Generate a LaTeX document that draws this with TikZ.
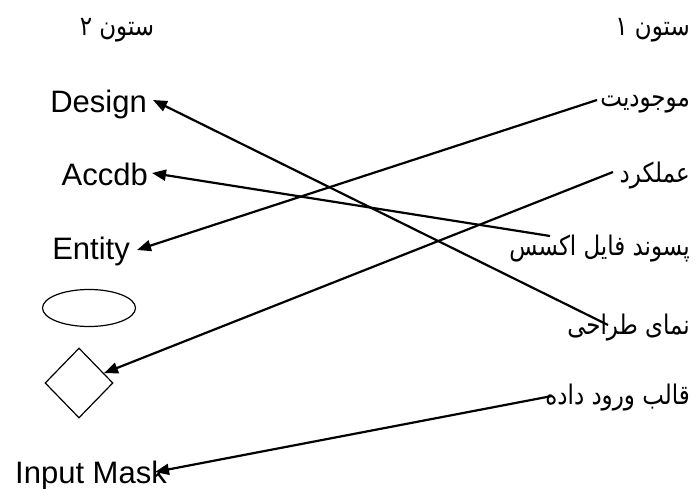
\documentclass[tikz,border=0pt]{standalone}
\usepackage{fontspec}
\setmainfont{Liberation Sans}
\newfontfamily\fa[Script=Arabic,FakeStretch=0.85]{DejaVu Sans}
\TeXXeTstate=1
\usetikzlibrary{shapes.geometric,arrows.meta,calc}
\begin{document}
\begin{tikzpicture}[x=1pt,y=-1pt,
  lbl/.style={font=\fontsize{31}{36}\selectfont, inner sep=0pt, anchor=base east},
  falbl/.style={font=\fontsize{27}{32}\selectfont\fa, inner sep=0pt, anchor=east},
  arr/.style={line width=2.2pt, -{Triangle[length=14pt,width=11pt]}},
  shp/.style={draw, line width=1.2pt, inner sep=0pt}]
\useasboundingbox (0,0) rectangle (697,489);
% titles
\node[falbl, anchor=center] (h2) at (117,30) {\beginR ستون ۲\endR};
\node[falbl] (h1) at (690,30) {\beginR ستون ۱\endR};
% left column
\node[lbl] (design) at (147,113) {Design};
\node[lbl] (accdb) at (148,186) {Accdb};
\node[lbl] (entity) at (130,260) {Entity};
\node[shp, ellipse, minimum width=93pt, minimum height=37pt] (ell) at (89,308) {};
\node[shp, diamond, minimum width=68pt, minimum height=70pt] (dia) at (79,383) {};
\node[lbl] (mask) at (167,483) {Input Mask};
% right column
\node[falbl] (r1) at (690,104) {\beginR موجودیت\endR};
\node[falbl] (r2) at (690,176) {\beginR عملکرد\endR};
\node[falbl] (r3) at (690,249) {\beginR پسوند فایل اکسس\endR};
\node[falbl] (r4) at (690,328) {\beginR نمای طراحی\endR};
\node[falbl] (r5) at (690,398) {\beginR قالب ورود داده\endR};
% connectors
\draw[arr] ($(r1.east)+(-93,-4)$) -- ($(entity.base east)+(7,-10)$);
\draw[arr] ($(r2.east)+(-77,-4)$) -- (dia);
\draw[arr] ($(r3.east)+(-140,-13)$) -- ($(accdb.base east)+(4,-13)$);
\draw[arr] ($(r4.east)+(-82,-3)$) -- ($(design.base east)+(6,-13)$);
\draw[arr] ($(r5.east)+(-138,-2)$) -- ($(mask.base east)+(-12,-11)$);
\end{tikzpicture}
\end{document}
